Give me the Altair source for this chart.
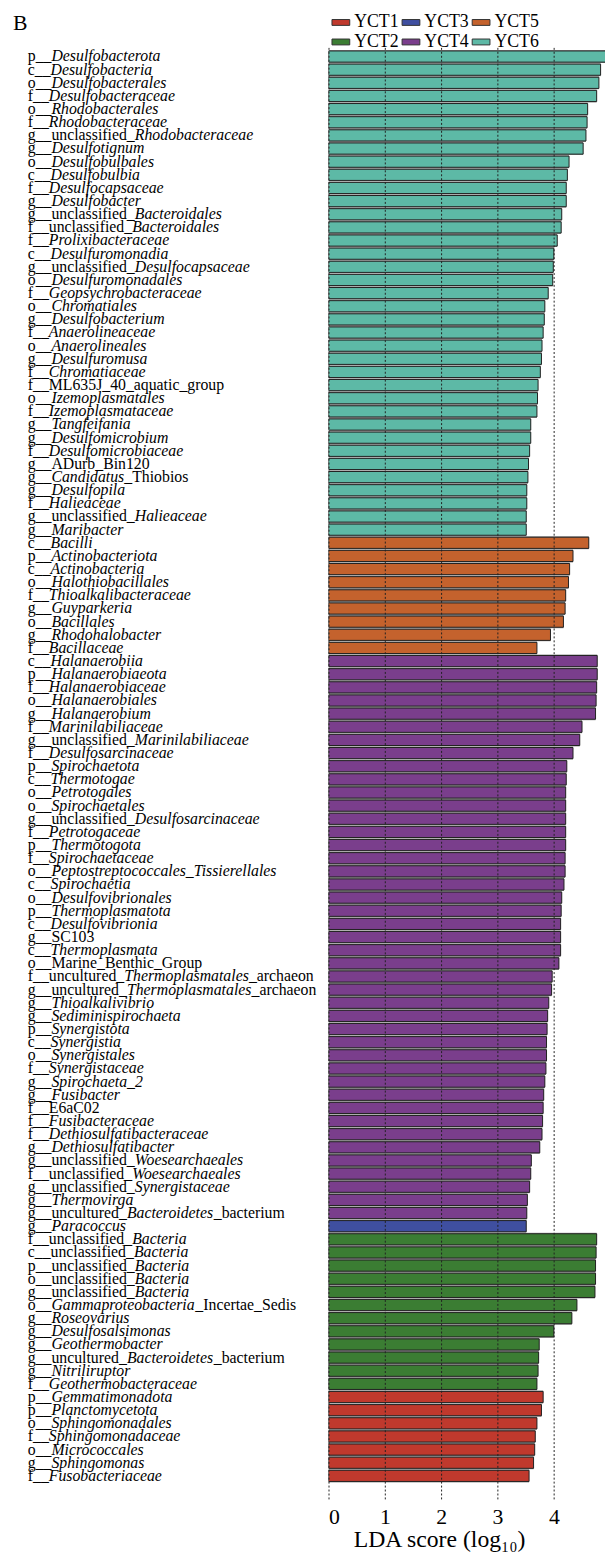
import altair as alt
import pandas as pd

# ---------------- data ----------------
# '*' toggles italic inside a label
yct6_taxa = [
    "p__*Desulfobacterota*", "c__*Desulfobacteria*", "o__*Desulfobacterales*",
    "f__*Desulfobacteraceae*", "o__*Rhodobacterales*", "f__*Rhodobacteraceae*",
    "g__unclassified_*Rhodobacteraceae*", "g__*Desulfotignum*", "o__*Desulfobulbales*",
    "c__*Desulfobulbia*", "f__*Desulfocapsaceae*", "g__*Desulfobacter*",
    "g__unclassified_*Bacteroidales*", "f__unclassified_*Bacteroidales*",
    "f__*Prolixibacteraceae*", "c__*Desulfuromonadia*",
    "g__unclassified_*Desulfocapsaceae*", "o__*Desulfuromonadales*",
    "f__*Geopsychrobacteraceae*", "o__*Chromatiales*", "g__*Desulfobacterium*",
    "f__*Anaerolineaceae*", "o__*Anaerolineales*", "g__*Desulfuromusa*",
    "f__*Chromatiaceae*", "f__ML635J_40_aquatic_group", "o__*Izemoplasmatales*",
    "f__*Izemoplasmataceae*", "g__*Tangfeifania*", "g__*Desulfomicrobium*",
    "f__*Desulfomicrobiaceae*", "g__ADurb_Bin120", "g__*Candidatus*_Thiobios",
    "g__*Desulfopila*", "f__*Halieaceae*", "g__unclassified_*Halieaceae*",
    "g__*Maribacter*",
]
yct6_lda = [
    4.95, 4.83, 4.80, 4.76, 4.60, 4.59, 4.57, 4.52, 4.27, 4.24, 4.22, 4.22,
    4.14, 4.13, 4.06, 4.00, 3.99, 3.98, 3.90, 3.84, 3.83, 3.81, 3.79, 3.78,
    3.76, 3.72, 3.71, 3.70, 3.59, 3.59, 3.57, 3.55, 3.54, 3.52, 3.52, 3.51,
    3.51,
]

yct5_taxa = [
    "c__*Bacilli*", "p__*Actinobacteriota*", "c__*Actinobacteria*",
    "o__*Halothiobacillales*", "f__*Thioalkalibacteraceae*", "g__*Guyparkeria*",
    "o__*Bacillales*", "g__*Rhodohalobacter*", "f__*Bacillaceae*",
]
yct5_lda = [4.62, 4.34, 4.28, 4.26, 4.21, 4.20, 4.17, 3.94, 3.70]

yct4_taxa = [
    "c__*Halanaerobiia*", "p__*Halanaerobiaeota*", "f__*Halanaerobiaceae*",
    "o__*Halanaerobiales*", "g__*Halanaerobium*", "f__*Marinilabiliaceae*",
    "g__unclassified_*Marinilabiliaceae*", "f__*Desulfosarcinaceae*",
    "p__*Spirochaetota*", "c__*Thermotogae*", "o__*Petrotogales*",
    "o__*Spirochaetales*", "g__unclassified_*Desulfosarcinaceae*",
    "f__*Petrotogaceae*", "p__*Thermotogota*", "f__*Spirochaetaceae*",
    "o__*Peptostreptococcales_Tissierellales*", "c__*Spirochaetia*",
    "o__*Desulfovibrionales*", "p__*Thermoplasmatota*", "c__*Desulfovibrionia*",
    "g__SC103", "c__*Thermoplasmata*", "o__Marine_Benthic_Group",
    "f__uncultured_*Thermoplasmatales*_archaeon",
    "g__uncultured_*Thermoplasmatales*_archaeon", "g__*Thioalkalivibrio*",
    "g__*Sediminispirochaeta*", "p__*Synergistota*", "c__*Synergistia*",
    "o__*Synergistales*", "f__*Synergistaceae*", "g__*Spirochaeta_2*",
    "g__*Fusibacter*", "f__E6aC02", "f__*Fusibacteraceae*",
    "f__*Dethiosulfatibacteraceae*", "g__*Dethiosulfatibacter*",
    "g__unclassified_*Woesearchaeales*", "f__unclassified_*Woesearchaeales*",
    "g__unclassified_*Synergistaceae*", "g__*Thermovirga*",
    "g__uncultured_*Bacteroidetes*_bacterium",
]
yct4_lda = [
    4.77, 4.77, 4.76, 4.75, 4.74, 4.50, 4.46, 4.34, 4.23, 4.22, 4.21, 4.21,
    4.21, 4.21, 4.21, 4.20, 4.20, 4.18, 4.14, 4.13, 4.12, 4.12, 4.12, 4.09,
    3.97, 3.96, 3.91, 3.89, 3.88, 3.87, 3.87, 3.86, 3.84, 3.82, 3.81, 3.80,
    3.79, 3.75, 3.60, 3.59, 3.57, 3.53, 3.52,
]

yct3_taxa = ["g__*Paracoccus*"]
yct3_lda = [3.51]

yct2_taxa = [
    "f__unclassified_*Bacteria*", "c__unclassified_*Bacteria*",
    "p__unclassified_*Bacteria*", "o__unclassified_*Bacteria*",
    "g__unclassified_*Bacteria*", "o__*Gammaproteobacteria*_Incertae_Sedis",
    "g__*Roseovarius*", "g__*Desulfosalsimonas*", "g__*Geothermobacter*",
    "g__uncultured_*Bacteroidetes*_bacterium", "g__*Nitriliruptor*",
    "f__*Geothermobacteraceae*",
]
yct2_lda = [4.76, 4.75, 4.74, 4.74, 4.73, 4.41, 4.32, 4.00, 3.74, 3.73, 3.72, 3.70]

yct1_taxa = [
    "p__*Gemmatimonadota*", "p__*Planctomycetota*", "o__*Sphingomonadales*",
    "f__*Sphingomonadaceae*", "o__*Micrococcales*", "g__*Sphingomonas*",
    "f__*Fusobacteriaceae*",
]
yct1_lda = [3.81, 3.78, 3.70, 3.67, 3.66, 3.64, 3.56]

blocks = [
    ("YCT6", yct6_taxa, yct6_lda),
    ("YCT5", yct5_taxa, yct5_lda),
    ("YCT4", yct4_taxa, yct4_lda),
    ("YCT3", yct3_taxa, yct3_lda),
    ("YCT2", yct2_taxa, yct2_lda),
    ("YCT1", yct1_taxa, yct1_lda),
]

groups = ["YCT1", "YCT2", "YCT3", "YCT4", "YCT5", "YCT6"]
group_colors = ["#C0392D", "#3B7D33", "#3F4FA0", "#7A3E8C", "#C4622D", "#5DB9A6"]

x_ticks = [0, 1, 2, 3, 4]

# ---------------- styling helpers ----------------
FS = 16           # label font size
LABEL_X = -304.6  # label start, relative to plot origin
REG = dict(zip("abcdefghijklmnopqrstuvwxyz",
               [444, 500, 444, 500, 444, 333, 500, 500, 278, 278, 500, 278, 778,
                500, 500, 500, 500, 333, 389, 278, 500, 500, 722, 500, 500, 444]))
REG.update(dict(zip("ABCDEFGHIJKLMNOPQRSTUVWXYZ",
               [722, 667, 667, 722, 611, 556, 722, 722, 333, 389, 722, 611, 889,
                722, 722, 556, 722, 667, 556, 611, 722, 722, 944, 722, 722, 611])))
ITA = dict(zip("abcdefghijklmnopqrstuvwxyz",
               [500, 500, 444, 500, 444, 278, 500, 500, 278, 278, 444, 278, 722,
                500, 500, 500, 500, 389, 389, 278, 500, 444, 667, 444, 444, 389]))
ITA.update(dict(zip("ABCDEFGHIJKLMNOPQRSTUVWXYZ",
               [611, 611, 667, 722, 611, 611, 722, 722, 333, 444, 667, 556, 833,
                667, 722, 611, 722, 611, 500, 556, 722, 611, 833, 611, 556, 556])))


def text_width(s, italic):
    table = ITA if italic else REG
    return sum(table.get(ch, 500) for ch in s) / 1000.0 * FS


rows, segs = [], []
idx = 0
for grp, taxa, vals in blocks:
    for label, v in zip(taxa, vals):
        idx += 1
        rows.append({"idx": idx, "lda": v, "group": grp})
        pos = LABEL_X
        for k, part in enumerate(label.split("*")):
            if not part:
                continue
            italic = (k % 2 == 1)
            segs.append({"idx": idx, "text": part,
                         "style": "italic" if italic else "normal", "px": pos})
            pos += text_width(part, italic)

df = pd.DataFrame(rows)
seg_df = pd.DataFrame(segs)

yscale = alt.Scale(paddingInner=0.15, paddingOuter=0.8, align=0.17)
xscale = alt.Scale(domain=[0, 4.908], nice=False, zero=True)
SERIF = "Liberation Serif"

# thin grey separators visible between neighbouring bars
under = alt.Chart(df).mark_bar(clip=True, color="#9a9a9a", height={"band": 1.17}).encode(
    x=alt.X("lda:Q", scale=xscale, axis=None),
    y=alt.Y("idx:O", axis=None, scale=yscale),
)

bars = alt.Chart(df).mark_bar(clip=True, stroke="#222222", strokeWidth=1).encode(
    x=alt.X("lda:Q", scale=xscale,
            axis=alt.Axis(values=x_ticks, format="d", grid=True, gridDash=[2, 2],
                          gridColor="#222222", gridWidth=1, domain=False, ticks=False,
                          labelFont=SERIF, labelFontSize=22, labelColor="black",
                          labelPadding=8,
                          title="LDA score (log₁₀)", titleFont=SERIF,
                          titleFontSize=24, titleFontWeight="normal",
                          titleColor="black", titleX=112, titleY=48,
                          titleAlign="center", titleBaseline="alphabetic",
                          zindex=1)),
    y=alt.Y("idx:O", axis=None, scale=yscale),
    color=alt.Color("group:N",
                    scale=alt.Scale(domain=groups, range=group_colors),
                    legend=alt.Legend(orient="none", legendX=3, legendY=-35,
                                      columns=3, title=None,
                                      symbolType="M-1,-0.33H1V0.33H-1Z",
                                      symbolSize=324, symbolStrokeColor="#333333",
                                      symbolStrokeWidth=1, symbolOpacity=1,
                                      labelFont=SERIF, labelFontSize=18,
                                      labelColor="black", labelOffset=4,
                                      columnPadding=1, rowPadding=1, padding=0)),
)

reg_text = alt.Chart(seg_df).transform_filter("datum.style == 'normal'").mark_text(
    align="left", baseline="middle", font=SERIF, fontSize=FS, color="black"
).encode(
    x=alt.X("px:Q", scale=None, axis=None),
    y=alt.Y("idx:O", axis=None, scale=yscale),
    text="text:N",
)

ital_text = alt.Chart(seg_df).transform_filter("datum.style == 'italic'").mark_text(
    align="left", baseline="middle", font=SERIF, fontSize=FS, fontStyle="italic",
    color="black"
).encode(
    x=alt.X("px:Q", scale=None, axis=None),
    y=alt.Y("idx:O", axis=None, scale=yscale),
    text="text:N",
)

panel = alt.Chart(pd.DataFrame({"t": ["B"]})).mark_text(
    align="left", baseline="alphabetic", font=SERIF, fontSize=22, color="black"
).encode(x=alt.value(-319.6), y=alt.value(-18), text="t:N")

chart = alt.layer(under, bars, reg_text, ital_text, panel).resolve_scale(
    x="independent"
).properties(
    width=280, height=1470,
    autosize=alt.AutoSizeParams(type="none"),
    padding={"left": 324.6, "top": 30, "right": 0, "bottom": 54},
).configure_view(stroke=None)

chart.save("out.html", embed_options={"renderer": "svg", "actions": False})
